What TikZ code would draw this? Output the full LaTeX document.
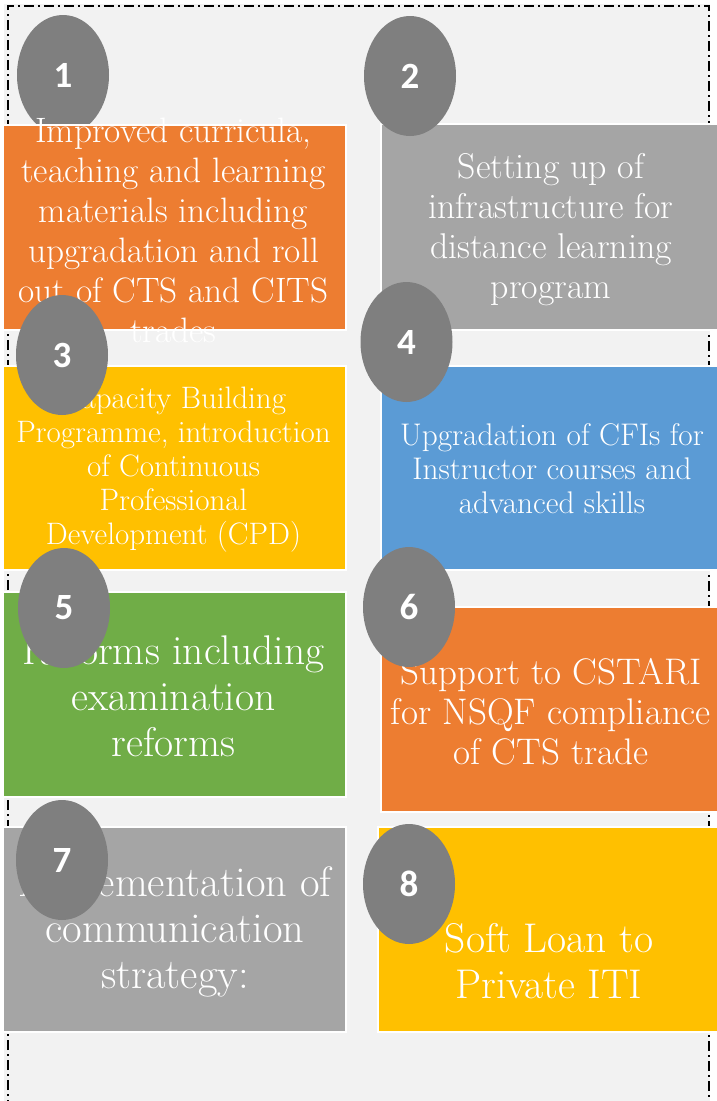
\documentclass[tikz,border=0pt]{standalone}
\usepackage{fontspec}
\newfontfamily\numfont{Carlito}
\usetikzlibrary{shapes.geometric}
\definecolor{bgc}{HTML}{F2F2F2}
\definecolor{orng}{HTML}{ED7D31}
\definecolor{gry}{HTML}{A5A5A5}
\definecolor{ylw}{HTML}{FFC000}
\definecolor{blu}{HTML}{5B9BD5}
\definecolor{grn}{HTML}{70AD47}
\definecolor{ell}{HTML}{7F7F7F}
\tikzset{
  boxst/.style={rectangle, draw=white, line width=2.5pt, inner sep=0pt},
  txt/.style={text=white, align=center, inner sep=0pt},
  numst/.style={ellipse, fill=ell, minimum width=92pt, minimum height=120pt, inner sep=0pt,
    text=white, font=\numfont\bfseries\fontsize{37}{37}\selectfont},
  frame/.style={draw=black, line width=1.4pt, dash pattern=on 10pt off 4pt on 2pt off 4pt}
}
\begin{document}
\begin{tikzpicture}[x=1pt,y=-1pt]
\useasboundingbox (0,0) rectangle (716,1101);
\fill[white] (0,0) rectangle (716,1101);
\fill[bgc] (4,4) rectangle (710,1101);
\draw[frame] (8,1110) -- (8,6) -- (709,6) -- (709,1110);

% 1
\node[numst] (e1) at (63,75) {1};
\node[boxst, fill=orng, minimum width=343pt, minimum height=205pt] (b1) at (174.5,227.5) {};
\node[txt, font=\fontsize{35.3}{40}\selectfont] (t1) at (173.5,230)
  {Improved curricula,\\teaching and learning\\materials including\\upgradation and roll\\out of CTS and CITS\\trades};

% 2
\node[boxst, fill=gry, minimum width=337pt, minimum height=206pt] (b2) at (549.5,227) {};
\node[txt, font=\fontsize{35.8}{40}\selectfont] (t2) at (551,230)
  {Setting up of\\infrastructure for\\distance learning\\program};
\node[numst] (e2) at (410,76) {2};

% 3
\node[boxst, fill=ylw, minimum width=343pt, minimum height=204pt] (b3) at (174.5,468) {};
\node[txt, font=\fontsize{31}{34}\selectfont] (t3) at (173.5,470)
  {Capacity Building\\Programme, introduction\\of Continuous\\Professional\\Development (CPD)};
\node[numst] (e3) at (62,355) {3};

% 4
\node[boxst, fill=blu, minimum width=337pt, minimum height=204pt] (b4) at (549.5,468) {};
\node[txt, font=\fontsize{31.3}{34}\selectfont] (t4) at (552,469)
  {Upgradation of CFIs for\\Instructor courses and\\advanced skills};
\node[numst] (e4) at (406.5,342) {4};

% 5
\node[boxst, fill=grn, minimum width=343pt, minimum height=205pt] (b5) at (174.5,694.5) {};
\node[txt, font=\fontsize{41.5}{46}\selectfont] (t5) at (173.5,696)
  {Reforms including\\examination\\reforms};
\node[numst] (e5) at (64,608) {5};

% 6
\node[boxst, fill=orng, minimum width=337pt, minimum height=205pt] (b6) at (549.5,709.5) {};
\node[txt, font=\fontsize{37}{40}\selectfont] (t6) at (551,712)
  {Support to CSTARI\\for NSQF compliance\\of CTS trade};
\node[numst] (e6) at (409,607) {6};

% 7
\node[boxst, fill=gry, minimum width=343pt, minimum height=205pt] (b7) at (174.5,929.5) {};
\node[txt, font=\fontsize{42.5}{46}\selectfont] (t7) at (175,932)
  {Implementation of\\communication\\strategy:};
\node[numst] (e7) at (62,860) {7};

% 8
\node[boxst, fill=ylw, minimum width=340pt, minimum height=205pt] (b8) at (548,929.5) {};
\node[txt, font=\fontsize{41.5}{46}\selectfont] (t8) at (549,961)
  {Soft Loan to\\Private ITI};
\node[numst] (e8) at (409,884) {8};
\end{tikzpicture}
\end{document}
